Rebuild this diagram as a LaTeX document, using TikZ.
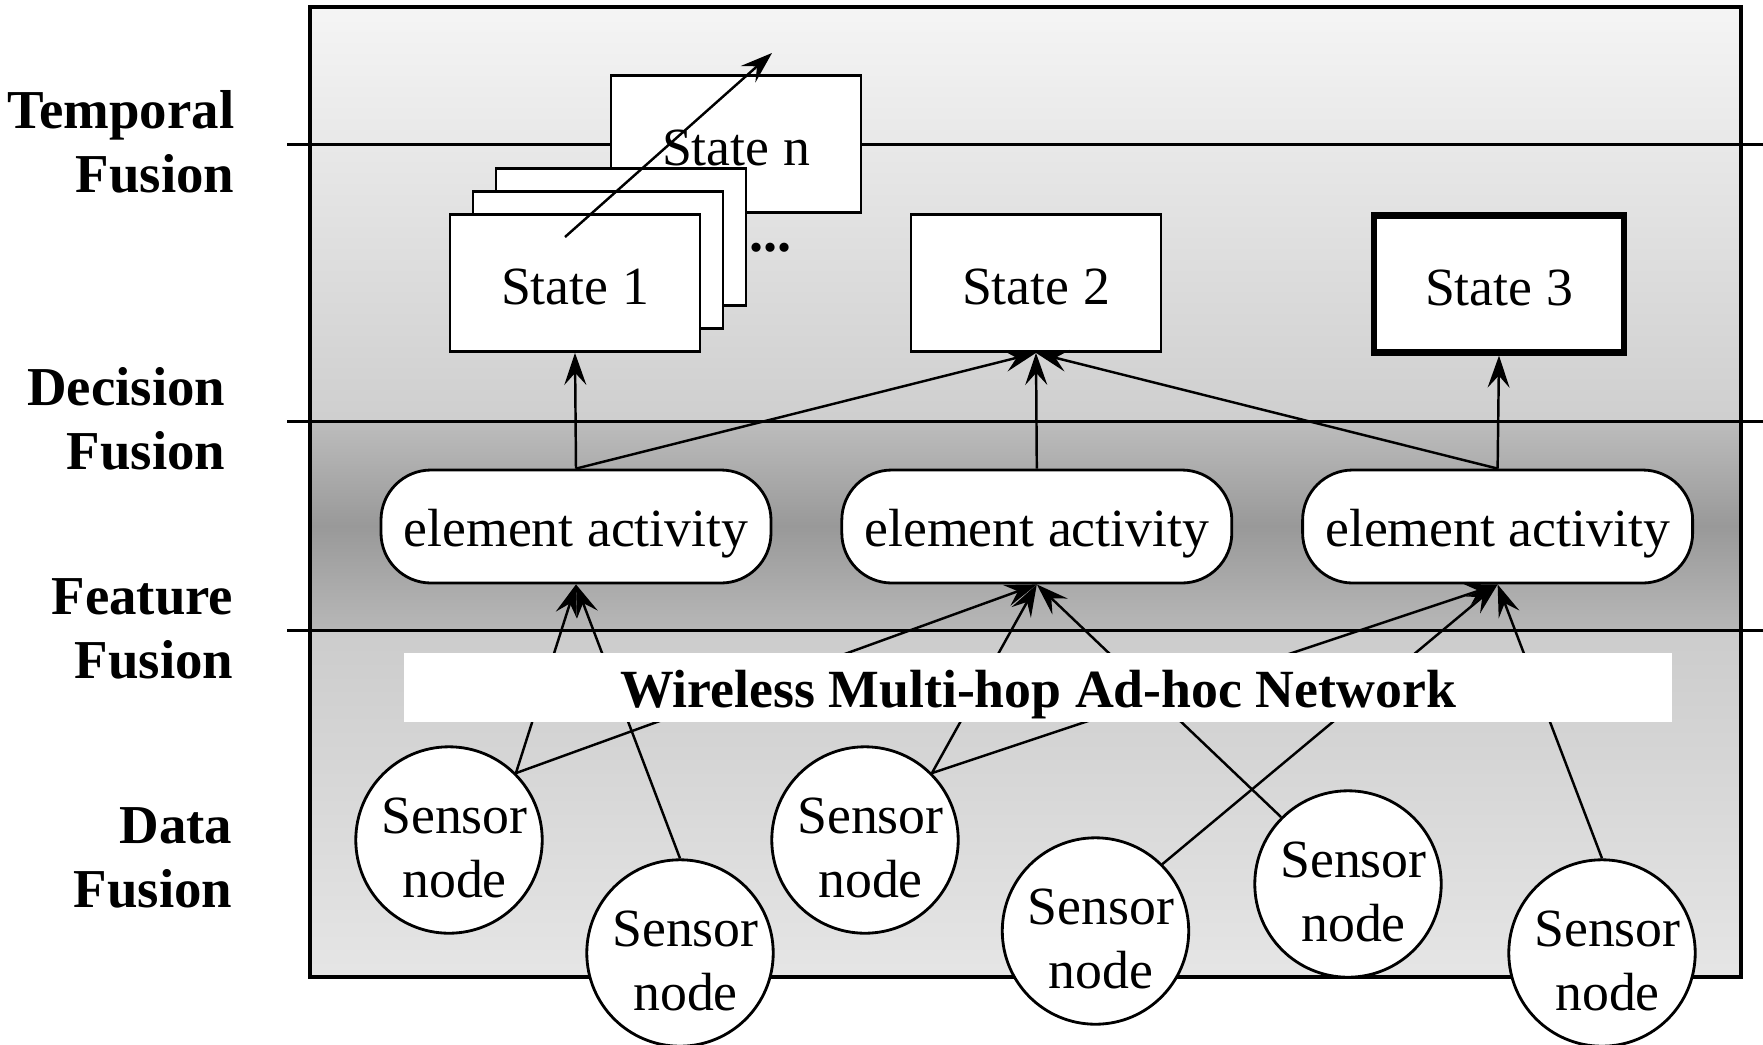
\documentclass[tikz,border=0pt]{standalone}
\usepackage{fontspec}
\setmainfont{Liberation Serif}
\usetikzlibrary{positioning,arrows.meta}
\definecolor{borde}{HTML}{000000}
\newcommand{\sensortxt}{\rule{0pt}{0.52cm}\hspace*{0.055cm}Sensor\hspace*{-0.055cm}\\\hspace*{0.055cm}node\hspace*{-0.055cm}}

\begin{document}
\begin{tikzpicture}[node distance=0.68cm,font=\fontsize{15.3}{18.2}\selectfont,
    statebox/.style={draw=borde,line width=0.8pt,fill=white,minimum width=2.50cm,minimum height=1.37cm,execute at begin node={\rule{0pt}{0.43cm}}},
    actbox/.style={draw=borde,line width=0.8pt,fill=white,rounded corners=0.5cm,minimum width=3.90cm,minimum height=1.13cm,execute at begin node={\rule{0pt}{0.51cm}}},
    sensor/.style={draw=borde,circle,line width=0.8pt,fill=white,minimum size=1.84cm,inner sep=0pt,align=center},
    layer/.style={font=\fontsize{15.6}{18.2}\selectfont\bfseries,align=right,anchor=east,inner sep=0pt},
    feed/.style={line width=0.7pt,-{Stealth[length=3.2mm,width=2.2mm,inset=1.2mm]}}]
      \useasboundingbox (0,0) rectangle (17.63,-10.44);
      % background bands
      \shade[top color=black!4,bottom color=black!19] (3.10,-0.07) rectangle (17.41,-4.215);
      \shade[top color=black!26,bottom color=black!28,middle color=black!40] (3.10,-4.215) rectangle (17.41,-6.305);
      \shade[top color=black!20,bottom color=black!10] (3.10,-6.305) rectangle (17.41,-9.77);
      \draw[line width=1pt] (3.10,-0.07) rectangle (17.41,-9.77);
      \foreach \y in {-1.445,-4.215,-6.305}
        \draw[line width=0.8pt] (2.87,\y) -- (17.63,\y);

      \node[layer] (ltemp) at (2.35,-1.42) {Temporal\\Fusion};
      \node[layer] (ldec) at (2.26,-4.19) {Decision\\Fusion};
      \node[layer] (lfeat) at (2.34,-6.29) {Feature\\Fusion};
      \node[layer] (ldata) at (2.33,-8.58) {Data\\Fusion};

      % states
      \node[statebox] (stn) at (7.36,-1.44) {State n};
      \node[statebox] (stb2) at (6.21,-2.37) {};
      \node[statebox] (stb1) at (5.98,-2.60) {};
      \node[statebox] (st1) at (5.75,-2.83) {State 1};
      \node[statebox] (st2) at (10.36,-2.83) {State 2};
      \node[statebox,line width=1.8pt] (st3) at (14.99,-2.84) {State 3};
      \node[anchor=base west,inner sep=0pt,font=\fontsize{16}{18}\selectfont\bfseries] (dots) at (7.49,-2.51) {...};

      % element activities
      \node[actbox] (ea1) at (5.76,-5.265) {element activity};
      \node[actbox,right=of ea1] (ea2) {element activity};
      \node[actbox,right=of ea2] (ea3) {element activity};

      % sensors
      \node[sensor] (s1) at (4.49,-8.40) {\sensortxt};
      \node[sensor] (s2) at (6.80,-9.53) {\sensortxt};
      \node[sensor] (s3) at (8.65,-8.40) {\sensortxt};
      \node[sensor] (s4) at (10.955,-9.31) {\sensortxt};
      \node[sensor] (s5) at (13.48,-8.84) {\sensortxt};
      \node[sensor] (s6) at (16.02,-9.53) {\sensortxt};

      \draw[feed] (s1.45) -- (ea1.south);
      \draw[feed] (s1.45) -- (ea2.south);
      \draw[feed] (s2.north) -- (ea1.south);
      \draw[feed] (s3.45) -- (ea2.south);
      \draw[feed] (s3.45) -- (ea3.south);
      \draw[feed] (s5.135) -- (ea2.south);
      \draw[feed] (s4.45) -- (ea3.south);
      \draw[feed] (s6.north) -- (ea3.south);

      \node[fill=white,minimum width=12.68cm,minimum height=0.69cm,inner ysep=0pt,font=\fontsize{15.3}{18.2}\selectfont\bfseries] (net) at (10.38,-6.875) {\rule{0pt}{0.52cm}Wireless Multi-hop Ad-hoc Network};

      \draw[feed] (ea1.north) -- (st1.south);
      \draw[feed] (ea1.north) -- (st2.south);
      \draw[feed] (ea2.north) -- (st2.south);
      \draw[feed] (ea3.north) -- (st2.south);
      \draw[feed] (ea3.north) -- (st3.south);

      \coordinate (tfrom) at (5.65,-2.37);
      \coordinate (tto) at (7.72,-0.53);
      \draw[feed] (tfrom) -- (tto);
    \end{tikzpicture}
\end{document}
